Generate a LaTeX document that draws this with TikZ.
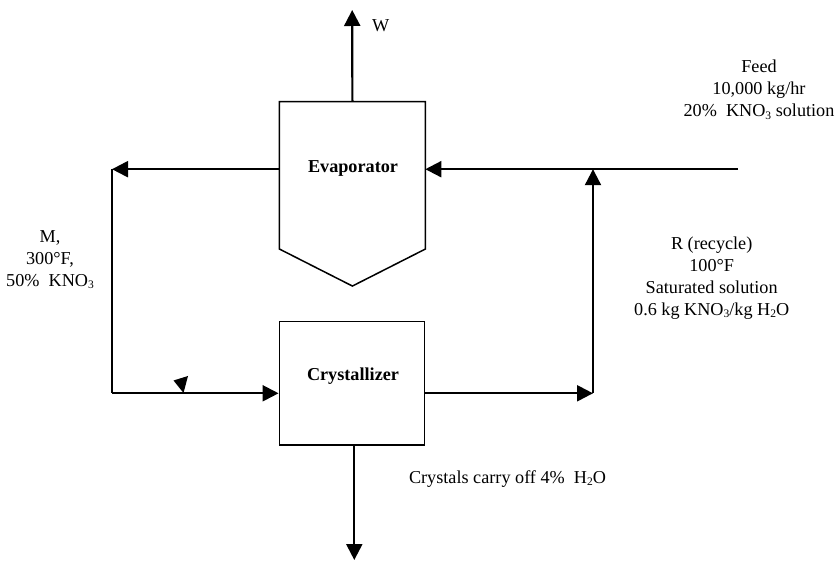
\documentclass[tikz,border=0pt]{standalone}
\usepackage{fontspec}
\setmainfont{Liberation Serif}
\usetikzlibrary{arrows.meta,calc}
\newcommand{\chemsub}[1]{\raisebox{-0.3ex}{\fontsize{11.5}{11.5}\selectfont #1}}
\begin{document}
\begin{tikzpicture}[x=1pt,y=-1pt,
  flow/.style={line width=2.2pt},
  arr/.style={flow,-{Triangle[length=16pt,width=16pt]}},
  unit/.style={rectangle,line width=1.5pt,inner sep=0pt},
  lbl/.style={align=center,inner sep=0pt,font=\fontsize{18.2}{22}\selectfont},
  blbl/.style={lbl,font=\fontsize{18.2}{22}\selectfont\bfseries}]
\useasboundingbox (0,0) rectangle (836,561);
% units
\node[unit,minimum width=144.4pt,minimum height=146pt] (evap) at (352.4,175.3) {};
\draw[line width=1.5pt] (evap.south west) -- (evap.north west) -- (evap.north east)
  -- (evap.south east) -- ($(evap.south)+(0,37)$) -- cycle;
\node[blbl] (evaptxt) at (353,168) {Evaporator};
\node[unit,draw,minimum width=145pt,minimum height=123.3pt] (cryst) at (351.8,383.4) {};
\node[blbl] (crysttxt) at (353,376) {Crystallizer};
% junctions and free ends
\coordinate (wtop) at (352.2,10);
\coordinate (jL) at (112,169.2);
\coordinate (jLB) at (112,393.3);
\coordinate (jR) at (593,393.3);
\coordinate (jTop) at (593,169.2);
\coordinate (feedEnd) at (738,169.2);
\coordinate (crysOut) at (354.3,560);
% connectors
\draw[arr] (evap.north) -- (wtop);
\draw[arr] (evap.west |- jL) -- (jL);
\draw[flow] (jL) -- (jLB);
\draw[arr] (jLB) -- (cryst.west |- jLB);
\draw[arr] (cryst.east |- jR) -- (jR);
\draw[arr] (jR) -- (jTop);
\draw[arr] (feedEnd) -- (evap.east |- feedEnd);
\draw[arr] ([xshift=2.5pt]cryst.south) -- (crysOut);
% small marker on the M line
\fill (173.5,380.5) -- (188,376) -- (183.5,393) -- cycle;
% labels
\node[lbl] (wlbl) at (380.8,26) {W};
\node[lbl] (feedlbl) at (759,89.5) {Feed\\10,000 kg/hr\\20\%\enspace KNO\chemsub{3} solution};
\node[lbl] (mlbl) at (50,259.5) {M,\\300°F,\\50\%\enspace KNO\chemsub{3}};
\node[lbl] (rlbl) at (711.7,277.7) {R (recycle)\\100°F\\Saturated solution\\0.6 kg KNO\chemsub{3}/kg H\chemsub{2}O};
\node[lbl] (clbl) at (507.5,479) {Crystals carry off 4\%\enspace H\chemsub{2}O};
\end{tikzpicture}
\end{document}
